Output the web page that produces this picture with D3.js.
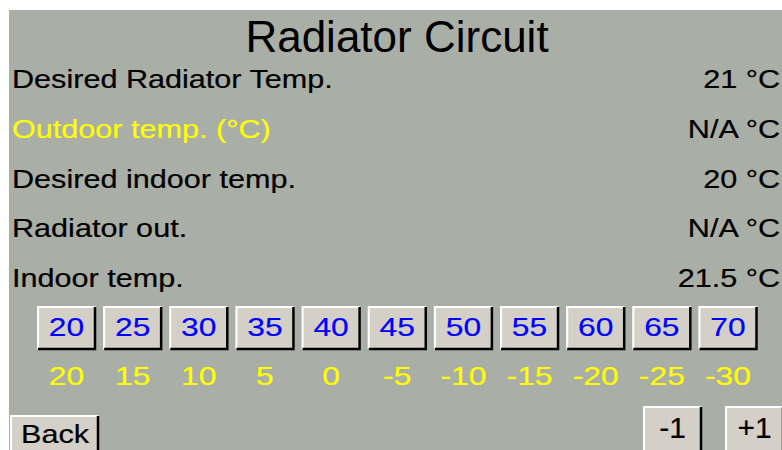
<!DOCTYPE html>
<html>
<head>
<meta charset="utf-8">
<script src="https://cdn.jsdelivr.net/npm/d3@7"></script>
<style>
  body { margin: 0; background: #ffffff; }
  svg text { font-family: "Liberation Sans", Arial, sans-serif; }
  svg text.lcd { stroke-width: 0.2px; }
</style>
</head>
<body>
<svg id="panel" width="782" height="450"></svg>
<script>
// Data
var title = "Radiator Circuit";
var rowLabels = ["Desired Radiator Temp.", "Outdoor temp. (°C)", "Desired indoor temp.", "Radiator out.", "Indoor temp."];
var rowValues = ["21", "N/A", "20", "N/A", "21.5"];
var rowColors = ["#000000", "#ffff00", "#000000", "#000000", "#000000"];
var radiatorTemps = [20, 25, 30, 35, 40, 45, 50, 55, 60, 65, 70];
var outdoorTemps = [20, 15, 10, 5, 0, -5, -10, -15, -20, -25, -30];
var stepButtons = ["-1", "+1"];

var svg = d3.select("#panel");
var stretch = 1.2; // the small lcd font is wider than Arial

// grey panel
svg.append("rect")
  .attr("x", 9)
  .attr("y", 10)
  .attr("width", 782 - 9)
  .attr("height", 450 - 10)
  .attr("fill", "#a9aea6");

svg.append("text")
  .attr("x", 397)
  .attr("y", 52)
  .attr("text-anchor", "middle")
  .attr("font-size", 44)
  .attr("fill", "#000")
  .text(title);

// rows of labels + values
var yRow = d3.scalePoint()
  .domain(d3.range(rowLabels.length))
  .range([88, 287]);

var rows = svg.selectAll("g.row").data(rowLabels).enter()
  .append("g")
  .attr("class", "row");

rows.append("text")
  .attr("class", "lcd")
  .attr("transform", function(d, i) {
    return "translate(12," + yRow(i) + ") scale(" + stretch + ",1)";
  })
  .attr("font-size", 25.5)
  .attr("fill", function(d, i) { return rowColors[i]; })
  .attr("stroke", function(d, i) { return rowColors[i]; })
  .text(function(d) { return d; });

rows.append("text")
  .attr("class", "lcd")
  .attr("transform", function(d, i) {
    return "translate(780," + yRow(i) + ") scale(" + stretch + ",1)";
  })
  .attr("text-anchor", "end")
  .attr("font-size", 25.5)
  .attr("fill", "#000")
  .attr("stroke", "#000")
  .text(function(d, i) { return rowValues[i] + " °C"; });

// draws a raised windows-style button
function bevel(g, w, h) {
  g.append("rect")
    .attr("width", w)
    .attr("height", h)
    .attr("fill", "#d4d0c8");
  g.append("path")
    .attr("d", "M1," + (h - 1) + "V1H" + (w - 1))
    .attr("fill", "none")
    .attr("stroke", "#ffffff")
    .attr("stroke-width", 2);
  g.append("path")
    .attr("d", "M1," + (h - 1) + "H" + (w - 1) + "V1")
    .attr("fill", "none")
    .attr("stroke", "#000000")
    .attr("stroke-width", 2.5);
}

// radiator temperature buttons
var xBtn = d3.scalePoint()
  .domain(radiatorTemps)
  .range([66.5, 728]);
var btnW = 59, btnH = 44;

var buttons = svg.selectAll("g.tempBtn").data(radiatorTemps).enter()
  .append("g")
  .attr("class", "tempBtn")
  .attr("transform", function(d) {
    return "translate(" + (xBtn(d) - btnW / 2) + ",306)";
  });

buttons.each(function() { bevel(d3.select(this), btnW, btnH); });

buttons.append("text")
  .attr("class", "lcd")
  .attr("transform", "translate(" + (btnW / 2) + ",30) scale(" + stretch + ",1)")
  .attr("text-anchor", "middle")
  .attr("font-size", 26.5)
  .attr("fill", "#0000ff")
  .attr("stroke", "#0000ff")
  .text(function(d) { return d; });

// outdoor temps under the buttons
svg.selectAll("text.outdoor").data(outdoorTemps).enter()
  .append("text")
  .attr("class", "outdoor lcd")
  .attr("transform", function(d, i) {
    return "translate(" + xBtn(radiatorTemps[i]) + ",385) scale(" + stretch + ",1)";
  })
  .attr("text-anchor", "middle")
  .attr("font-size", 26.5)
  .attr("fill", "#ffff00")
  .attr("stroke", "#ffff00")
  .text(function(d) { return d; });

// Back button
var back = svg.append("g").attr("transform", "translate(10,415)");
bevel(back, 89, 50);
back.append("text")
  .attr("class", "lcd")
  .attr("transform", "translate(45,28) scale(" + stretch + ",1)")
  .attr("text-anchor", "middle")
  .attr("font-size", 25.5)
  .attr("fill", "#000")
  .attr("stroke", "#000")
  .text("Back");

// -1 / +1
var xStep = d3.scalePoint()
  .domain(stepButtons)
  .range([643, 725]);

var steps = svg.selectAll("g.step").data(stepButtons).enter()
  .append("g")
  .attr("class", "step")
  .attr("transform", function(d) { return "translate(" + xStep(d) + ",406)"; });

steps.each(function() { bevel(d3.select(this), 59, 50); });

steps.append("text")
  .attr("class", "lcd")
  .attr("x", 29.5)
  .attr("y", 32)
  .attr("text-anchor", "middle")
  .attr("font-size", 30)
  .attr("fill", "#000")
  .attr("stroke", "#000")
  .text(function(d) { return d; });
</script>
</body>
</html>
